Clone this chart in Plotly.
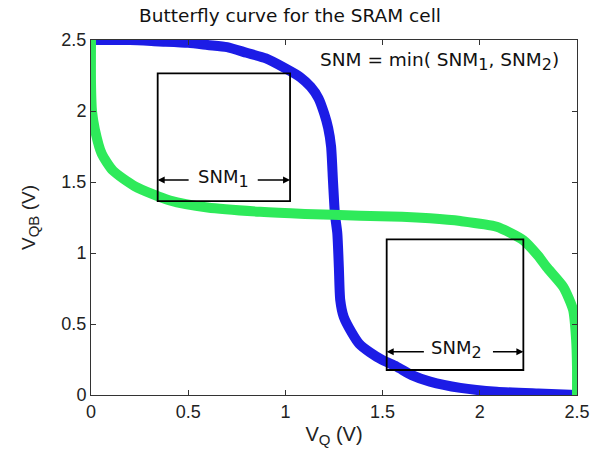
import plotly.graph_objects as go

# Blue curve: V_QB as a function of V_Q (inverter 1)
blue_vq = [0, 0.2, 0.35, 0.5, 0.6, 0.7, 0.8, 0.9, 1.0, 1.075, 1.13, 1.17, 1.2, 1.22,
           1.235, 1.245, 1.255, 1.267, 1.275, 1.282, 1.3, 1.341, 1.38, 1.435, 1.5,
           1.572, 1.65, 1.744, 1.9, 2.087, 2.3, 2.5]
blue_vqb = [2.5, 2.5, 2.49, 2.48, 2.465, 2.45, 2.41, 2.37, 2.3, 2.24, 2.17, 2.09, 1.98,
            1.88, 1.75, 1.5, 1.27, 1.14, 0.9, 0.67, 0.55, 0.44, 0.36, 0.3, 0.245,
            0.2, 0.14, 0.094, 0.05, 0.023, 0.01, 0.0]

# Green curve: inverter 2 (mirrored characteristic)
green_vq = [0, 0, 0.005, 0.02, 0.055, 0.113, 0.226, 0.406, 0.6, 0.87, 1.1, 1.384, 1.6,
            1.744, 1.9, 2.087, 2.224, 2.3, 2.344, 2.43, 2.48, 2.495, 2.5, 2.5]
green_vqb = [2.5, 2.2, 2.0, 1.87, 1.7, 1.58, 1.47, 1.37, 1.32, 1.29, 1.275, 1.263, 1.255,
             1.244, 1.225, 1.185, 1.09, 0.98, 0.9, 0.76, 0.6, 0.4, 0.2, 0.0]

# Noise-margin squares [x0, x1, y0, y1]
snm1_box = [0.343, 1.024, 1.366, 2.265]
snm2_box = [1.521, 2.224, 0.176, 1.096]

tick_vals = [0, 0.5, 1, 1.5, 2, 2.5]
tick_text = ["0", "0.5", "1", "1.5", "2", "2.5"]

BLUE = "#1c1ce6"
GREEN = "#2eea5a"

fig = go.Figure()
fig.add_trace(go.Scatter(x=blue_vq, y=blue_vqb, mode="lines",
                         line=dict(color=BLUE, width=10, shape="spline", smoothing=0.6),
                         showlegend=False, hoverinfo="skip"))
fig.add_trace(go.Scatter(x=green_vq, y=green_vqb, mode="lines",
                         line=dict(color=GREEN, width=10, shape="spline", smoothing=0.6),
                         showlegend=False, hoverinfo="skip"))

for b in (snm1_box, snm2_box):
    fig.add_shape(type="rect", x0=b[0], x1=b[1], y0=b[2], y1=b[3],
                  xref="x", yref="y", line=dict(color="black", width=1.8))

txt_font = dict(family="DejaVu Sans", size=18, color="#111111")
SUB = '<sub><span style="font-size:16px">{}</span></sub>'

def snm_arrow(box, y, text, t_left, t_right, t_center):
    fig.add_annotation(x=t_center, y=y, xref="x", yref="y", text=text,
                       showarrow=False, font=txt_font, yshift=2)
    fig.add_annotation(x=box[0], y=y, ax=t_left, ay=y, xref="x", yref="y",
                       axref="x", ayref="y", text="", showarrow=True,
                       arrowhead=2, arrowsize=1, arrowwidth=1.4, arrowcolor="black")
    fig.add_annotation(x=box[1], y=y, ax=t_right, ay=y, xref="x", yref="y",
                       axref="x", ayref="y", text="", showarrow=True,
                       arrowhead=2, arrowsize=1, arrowwidth=1.4, arrowcolor="black")

snm_arrow(snm1_box, 1.514, "SNM" + SUB.format("1"), 0.51, 0.85, 0.68)
snm_arrow(snm2_box, 0.305, "SNM" + SUB.format("2"), 1.72, 2.06, 1.88)

fig.add_annotation(x=2.42, y=2.35, xref="x", yref="y",
                   text="SNM = min( SNM" + SUB.format("1") + ", SNM" + SUB.format("2") + ")",
                   showarrow=False, font=dict(family="DejaVu Sans", size=18.5, color="#111111"),
                   xanchor="right")

axis_common = dict(range=[0, 2.5], tickvals=tick_vals, ticktext=tick_text,
                   ticks="inside", ticklen=5, tickcolor="#333333",
                   showline=True, linecolor="#333333", linewidth=1, mirror="ticks",
                   showgrid=False, zeroline=False, automargin=False,
                   tickfont=dict(family="Liberation Sans", size=18, color="#222222"))

SUBA = '<sub><span style="font-size:15px">{}</span></sub>'
fig.update_xaxes(**axis_common,
                 title=dict(text="V" + SUBA.format("Q") + " (V)", standoff=6,
                            font=dict(family="Liberation Sans", size=20, color="#222222")))
fig.update_yaxes(**axis_common,
                 title=dict(text="V" + SUBA.format("QB") + " (V)", standoff=20,
                            font=dict(family="Liberation Sans", size=19, color="#222222")))

fig.update_layout(
    width=598, height=453,
    margin=dict(l=91, r=21, t=40, b=58),
    plot_bgcolor="white", paper_bgcolor="white",
    title=dict(text="Butterfly curve for the SRAM cell", x=0.485, xanchor="center",
               y=0.965, yanchor="middle",
               font=dict(family="DejaVu Sans", size=18.5, color="#111111")),
)

fig.write_html("out.html", config={"displayModeBar": False},
               post_script="document.body.style.margin='0px';")
